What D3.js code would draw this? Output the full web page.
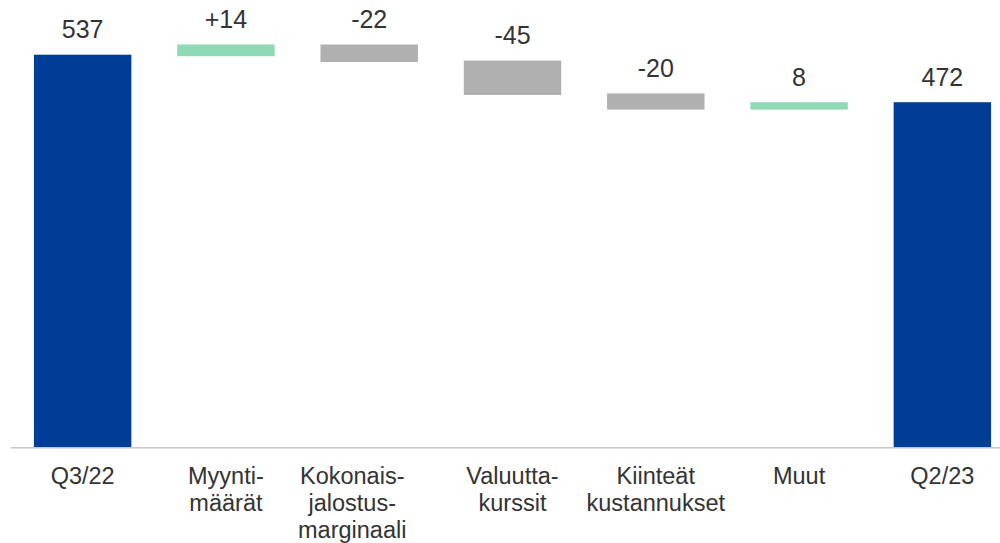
<!DOCTYPE html>
<html>
<head>
<meta charset="utf-8">
<script src="https://cdn.jsdelivr.net/npm/d3@7"></script>
<style>
  body { margin: 0; background: #fff; }
  svg { display: block; font-family: "Liberation Sans", Arial, sans-serif; }
</style>
</head>
<body>
<div id="chart"></div>
<script>
// waterfall data
const categories = ["Q3/22", "Myynti-\nmäärät", "Kokonais-\njalostus-\nmarginaali", "Valuutta-\nkurssit", "Kiinteät\nkustannukset", "Muut", "Q2/23"];
const values = [537, 14, -22, -45, -20, 8, 472];
const kinds = ["total", "delta", "delta", "delta", "delta", "delta", "total"];
const valueLabels = ["537", "+14", "-22", "-45", "-20", "8", "472"];

const width = 1000, height = 543;
const margin = {top: 0, right: -14, bottom: 96, left: 11};

const colors = {total: "#003d96", up: "#8fd9b6", down: "#b0b0b0"};

// the long 3-line label sits a bit left of its bar in the original
const labelNudge = {2: -17};

// running totals
let running = 0;
const bars = values.map((v, i) => {
  let start, end;
  if (kinds[i] === "total") { start = 0; end = v; running = v; }
  else { start = running; end = running + v; running = end; }
  return {cat: categories[i], label: valueLabels[i], kind: kinds[i], v, start, end};
});

const svg = d3.select("#chart").append("svg")
  .attr("width", width)
  .attr("height", height);

const x = d3.scaleBand()
  .domain(categories)
  .range([margin.left, width - margin.right])
  .paddingInner(0.32)
  .paddingOuter(0.16);

const baseY = 447.3;
const y = d3.scaleLinear()
  .domain([0, 537])
  .range([baseY, 54.7]);

// bars
svg.append("g")
  .selectAll("rect")
  .data(bars)
  .join("rect")
    .attr("x", d => x(d.cat))
    .attr("width", x.bandwidth())
    .attr("y", d => y(Math.max(d.start, d.end)))
    .attr("height", d => Math.abs(y(d.start) - y(d.end)) + (d.kind === "total" ? 0 : 1.5))
    .attr("fill", d => d.kind === "total" ? colors.total : (d.v >= 0 ? colors.up : colors.down));

// axis line
svg.append("line")
  .attr("x1", margin.left)
  .attr("x2", width)
  .attr("y1", baseY + 0.5)
  .attr("y2", baseY + 0.5)
  .attr("stroke", "#c6c6c6")
  .attr("stroke-width", 1.5);

// value labels
svg.append("g")
  .attr("fill", "#333")
  .style("font-size", "25px")
  .attr("text-anchor", "middle")
  .selectAll("text")
  .data(bars)
  .join("text")
    .attr("x", d => x(d.cat) + x.bandwidth() / 2)
    .attr("y", d => y(Math.max(d.start, d.end)) - 16.5)
    .text(d => d.label);

// category labels
const catG = svg.append("g")
  .attr("fill", "#333")
  .style("font-size", "23.5px")
  .attr("text-anchor", "middle");

catG.selectAll("text")
  .data(categories)
  .join("text")
    .attr("y", 484)
    .each(function(d, i) {
      const t = d3.select(this);
      const cx = x(d) + x.bandwidth() / 2 + (labelNudge[i] || 0);
      d.split("\n").forEach((line, j) => {
        t.append("tspan")
          .attr("x", cx)
          .attr("dy", j === 0 ? 0 : 27)
          .text(line);
      });
    });
</script>
</body>
</html>
